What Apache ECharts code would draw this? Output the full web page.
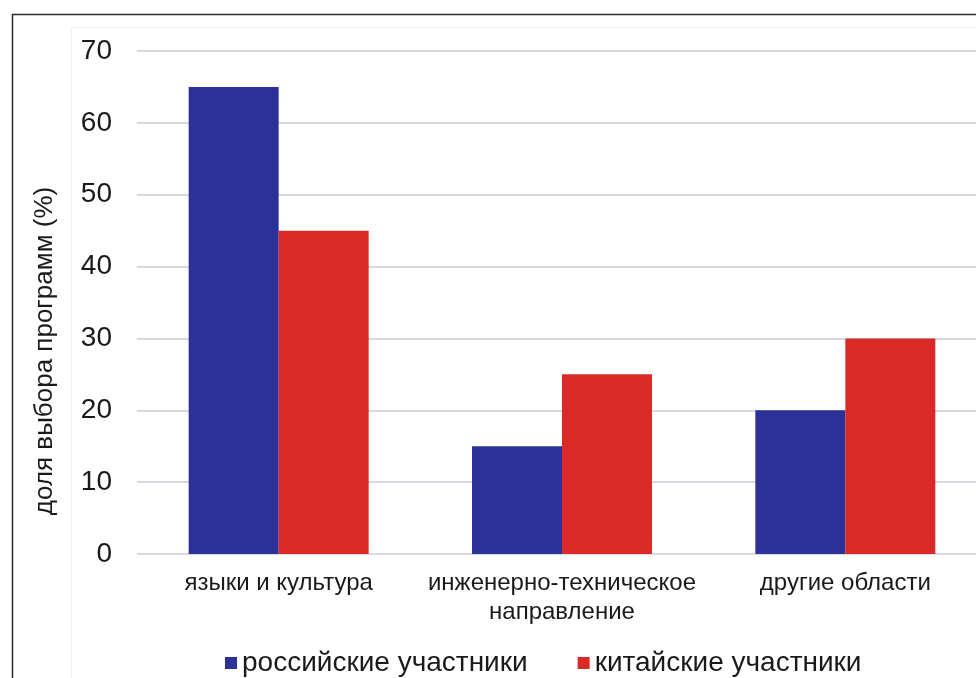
<!DOCTYPE html>
<html>
<head>
<meta charset="utf-8">
<script src="https://cdn.jsdelivr.net/npm/echarts@6/dist/echarts.min.js"></script>
<style>
html,body{margin:0;padding:0;background:#fff;overflow:hidden;}
#chart{width:1000px;height:678px;}
</style>
</head>
<body>
<div id="chart"></div>
<script>
var categories = ['языки и культура', 'инженерно-техническое\nнаправление', 'другие области'];
var seriesNames = ['российские участники', 'китайские участники'];
var russianValues = [65, 15, 20];
var chineseValues = [45, 25, 30];
var yAxisTitle = 'доля выбора программ (%)';

var chart = echarts.init(document.getElementById('chart'), null, {renderer: 'canvas'});
var font = 'Liberation Sans, Arial, sans-serif';
chart.setOption({
  animation: false,
  backgroundColor: '#ffffff',
  graphic: [
    {type: 'rect', left: 10, top: 12, shape: {width: 1000, height: 700}, style: {fill: 'none', stroke: '#2a2a2a', lineWidth: 1.5}, z: -1},
    {type: 'rect', left: 69, top: 25, shape: {width: 1000, height: 700}, style: {fill: 'none', stroke: '#f0f0f2', lineWidth: 1}, z: -1},
    {type: 'text', x: 45, y: 351, rotation: Math.PI / 2,
      style: {text: yAxisTitle, fontSize: 26, fontFamily: font, fill: '#1a1a1a', textAlign: 'center', textVerticalAlign: 'middle'}}
  ],
  grid: {left: 137, top: 51, bottom: 124, width: 850, containLabel: false},
  legend: {
    data: seriesNames,
    left: 220, top: 644,
    icon: 'rect', itemWidth: 12, itemHeight: 12, itemGap: 50,
    textStyle: {fontSize: 28, fontFamily: font, color: '#1a1a1a'}
  },
  xAxis: {
    type: 'category',
    data: categories,
    axisLine: {show: false},
    axisTick: {show: false},
    axisLabel: {fontSize: 24, fontFamily: font, color: '#1a1a1a', margin: 15, lineHeight: 29, interval: 0}
  },
  yAxis: {
    type: 'value',
    min: 0, max: 70, interval: 10,
    axisLine: {show: false},
    axisTick: {show: false},
    axisLabel: {fontSize: 28, fontFamily: font, color: '#1a1a1a', margin: 25},
    splitLine: {lineStyle: {color: '#d9d9e4', width: 2}}
  },
  series: [
    {name: seriesNames[0], type: 'bar', data: russianValues, barWidth: 90, barGap: '0%', itemStyle: {color: '#2b3197'}},
    {name: seriesNames[1], type: 'bar', data: chineseValues, barWidth: 90, barGap: '0%', itemStyle: {color: '#da2a28'}}
  ]
});
</script>
</body>
</html>
